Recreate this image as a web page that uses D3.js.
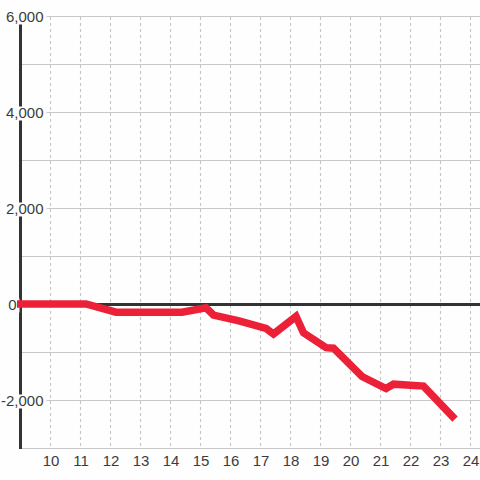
<!DOCTYPE html>
<html>
  <head>
    <style>
    body {
      font-family: "Liberation Sans", Arial, sans-serif;
      margin: 0;
      background: #fdfefd;
    }
    </style>
  </head>
  <body>
    <script src="https://d3js.org/d3.v7.min.js"></script>
    <script>
    var width = 480, height = 480;
    var bg = "#fdfefd";

    // hour of day / net value
    var hours = [8.9, 11.2, 12.2, 14.4, 15.2, 15.45, 16.3, 17.2, 17.45, 18.2, 18.45, 19.2, 19.45, 20.4, 21.2, 21.45, 22.45, 23.5];
    var values = [0, 0, -170, -170, -80, -230, -350, -510, -625, -260, -600, -910, -920, -1510, -1760, -1670, -1710, -2400];

    var xTicks = [10, 11, 12, 13, 14, 15, 16, 17, 18, 19, 20, 21, 22, 23, 24];
    var yGrid = [-3000, -2000, -1000, 0, 1000, 2000, 3000, 4000, 5000, 6000];
    var yLabels = [6000, 4000, 2000, 0, -2000];

    var x = d3.scaleLinear().domain([9, 24 + 1/3]).range([20, 480]);
    var y = d3.scaleLinear().domain([-3000, 6000]).range([448, 16]);

    var svg = d3.select("body").append("svg")
        .attr("width", width)
        .attr("height", height)
        .style("display", "block");

    svg.append("rect").attr("width", width).attr("height", height).attr("fill", bg);

    // horizontal grid
    svg.selectAll(".hgrid").data(yGrid).enter().append("line")
        .attr("x1", x(9)).attr("x2", width)
        .attr("y1", function(d){ return y(d) + 0.5; })
        .attr("y2", function(d){ return y(d) + 0.5; })
        .attr("stroke", "#c8c8c8")
        .attr("stroke-width", 1.2);

    // vertical dashed grid
    svg.selectAll(".vgrid").data(xTicks).enter().append("line")
        .attr("x1", function(d){ return x(d) + 0.5; })
        .attr("x2", function(d){ return x(d) + 0.5; })
        .attr("y1", y(6000) + 1).attr("y2", y(-3000))
        .attr("stroke", "#c4c4c4")
        .attr("stroke-width", 1.1)
        .attr("stroke-dasharray", "3,3");

    // left axis
    svg.append("line")
        .attr("x1", 20.5).attr("x2", 20.5)
        .attr("y1", y(6000)).attr("y2", y(-3000) + 1)
        .attr("stroke", "#333")
        .attr("stroke-width", 3);

    // zero line
    svg.append("line")
        .attr("x1", x(9)).attr("x2", width)
        .attr("y1", y(0) + 0.5).attr("y2", y(0) + 0.5)
        .attr("stroke", "#333")
        .attr("stroke-width", 3);

    // y labels with background boxes
    var fmt = d3.format(",");
    yLabels.forEach(function(v){
      var g = svg.append("g");
      var t = g.append("text")
          .attr("x", v === 0 ? 16.5 : 43.5)
          .attr("y", y(v) + 5.5)
          .attr("text-anchor", "end")
          .attr("font-size", 15)
          .attr("fill", "#3c3c3c")
          .text(v < 0 ? "-" + fmt(-v) : fmt(v));
      var b = t.node().getBBox();
      g.insert("rect", "text")
          .attr("x", b.x - 3).attr("y", y(v) - 5.5)
          .attr("width", b.width + 6).attr("height", 14)
          .attr("fill", bg);
    });

    var line = d3.line()
        .x(function(d, i){ return x(hours[i]); })
        .y(function(d){ return y(d); });

    svg.append("path")
        .datum(values)
        .attr("d", line)
        .attr("fill", "none")
        .attr("stroke", "#ec2138")
        .attr("stroke-width", 7.5);

    // x labels
    svg.selectAll(".xlab").data(xTicks).enter().append("text")
        .attr("x", function(d){ return x(d) + 1; })
        .attr("y", 466)
        .attr("text-anchor", "middle")
        .attr("font-size", 15)
        .attr("fill", "#3c3c3c")
        .text(function(d){ return d; });
    </script>
  </body>
</html>
